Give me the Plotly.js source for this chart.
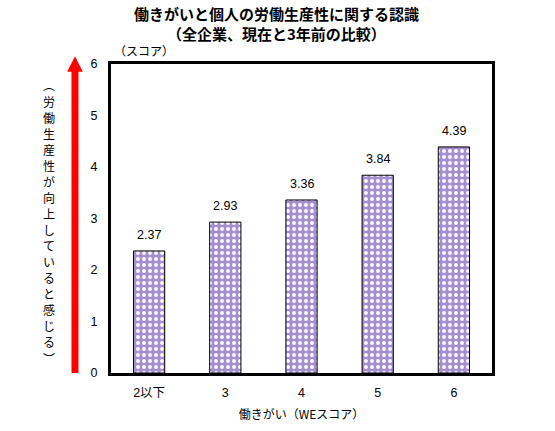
<!DOCTYPE html>
<html>
<head>
<meta charset="utf-8">
<script src="https://cdn.plot.ly/plotly-3.0.1.min.js"></script>
<style>
  html, body { margin: 0; padding: 0; background: #fff; }
  #chart { width: 555px; height: 431px; }
</style>
</head>
<body>
<div id="chart"></div>
<script>
var categories = ['2以下', '3', '4', '5', '6'];
var scores = [2.37, 2.93, 3.36, 3.84, 4.39];
var yTicks = [0, 1, 2, 3, 4, 5, 6];
var titleLines = ['働きがいと個人の労働生産性に関する認識', '（全企業、現在と3年前の比較）'];
var sideText = '（労働生産性が向上していると感じる）';

var jp = '"Noto Sans CJK JP", sans-serif';
var num = '"Liberation Sans", Arial, "Noto Sans CJK JP", sans-serif';
var purple = '#a68fd0';

var trace = {
  x: categories,
  y: scores,
  type: 'bar',
  width: 0.41,
  hoverinfo: 'none',
  marker: {
    color: purple,
    line: {color: '#000', width: 1},
    pattern: {shape: '.', fgcolor: '#ffffff', bgcolor: purple, size: 6, solidity: 0.32}
  }
};

var annotations = [];

// title lines
titleLines.forEach(function (t, i) {
  annotations.push({
    text: '<b>' + t + '</b>', xref: 'paper', yref: 'paper',
    x: 0.435, y: i === 0 ? 1.162 : 1.1, xanchor: 'center', yanchor: 'middle',
    showarrow: false, font: {family: jp, size: 15, color: '#000'}
  });
});

// value labels (x by category index)
scores.forEach(function (v, i) {
  annotations.push({
    text: v.toFixed(2), x: i, y: v, xref: 'x', yref: 'y',
    xanchor: 'center', yanchor: 'bottom', yshift: 7, showarrow: false,
    font: {family: num, size: 12.5, color: '#000'}
  });
});

annotations.push({
  text: '（スコア）', xref: 'paper', yref: 'paper', x: 0.003, y: 1.01,
  xanchor: 'left', yanchor: 'bottom', showarrow: false,
  font: {family: jp, size: 12, color: '#000'}
});

// vertical side label, one glyph per row
sideText.split('').forEach(function (c, i) {
  if (c === '（') c = '︵';
  if (c === '）') c = '︶';
  var py = 85 + i * 16.06;
  annotations.push({
    text: c, xref: 'paper', yref: 'paper',
    x: (49 - 111) / 381, y: (373 - py) / 309,
    xanchor: 'center', yanchor: 'middle', showarrow: false,
    font: {family: jp, size: 12, color: '#000'}
  });
});

var layout = {
  width: 555,
  height: 431,
  margin: {l: 111, r: 63, t: 64, b: 58},
  paper_bgcolor: '#fff',
  plot_bgcolor: '#fff',
  showlegend: false,
  xaxis: {
    type: 'category',
    range: [-0.5, categories.length - 0.5],
    showline: true, mirror: true, linecolor: '#000', linewidth: 3,
    ticks: '', showgrid: false,
    tickfont: {family: num, size: 12.5, color: '#000'},
    ticklabelstandoff: 6,
    title: {text: '働きがい（WEスコア）', font: {family: jp, size: 12, color: '#000'}, standoff: 12}
  },
  yaxis: {
    range: [0, 6],
    tickvals: yTicks,
    showline: true, mirror: true, linecolor: '#000', linewidth: 3,
    ticks: '', showgrid: false, zeroline: false,
    tickfont: {family: num, size: 12.5, color: '#000'},
    ticklabelstandoff: 8
  },
  shapes: [
    {type: 'line', xref: 'paper', yref: 'paper', x0: -0.0945, x1: -0.0945, y0: 0, y1: 0.98,
     line: {color: '#ff0000', width: 7}},
    {type: 'path', xref: 'paper', yref: 'paper',
     path: 'M -0.115 0.975 L -0.074 0.975 L -0.0945 1.025 Z',
     fillcolor: '#ff0000', line: {color: '#ff0000', width: 0}}
  ],
  annotations: annotations
};

Plotly.newPlot('chart', [trace], layout, {staticPlot: true, displayModeBar: false});
</script>
</body>
</html>
